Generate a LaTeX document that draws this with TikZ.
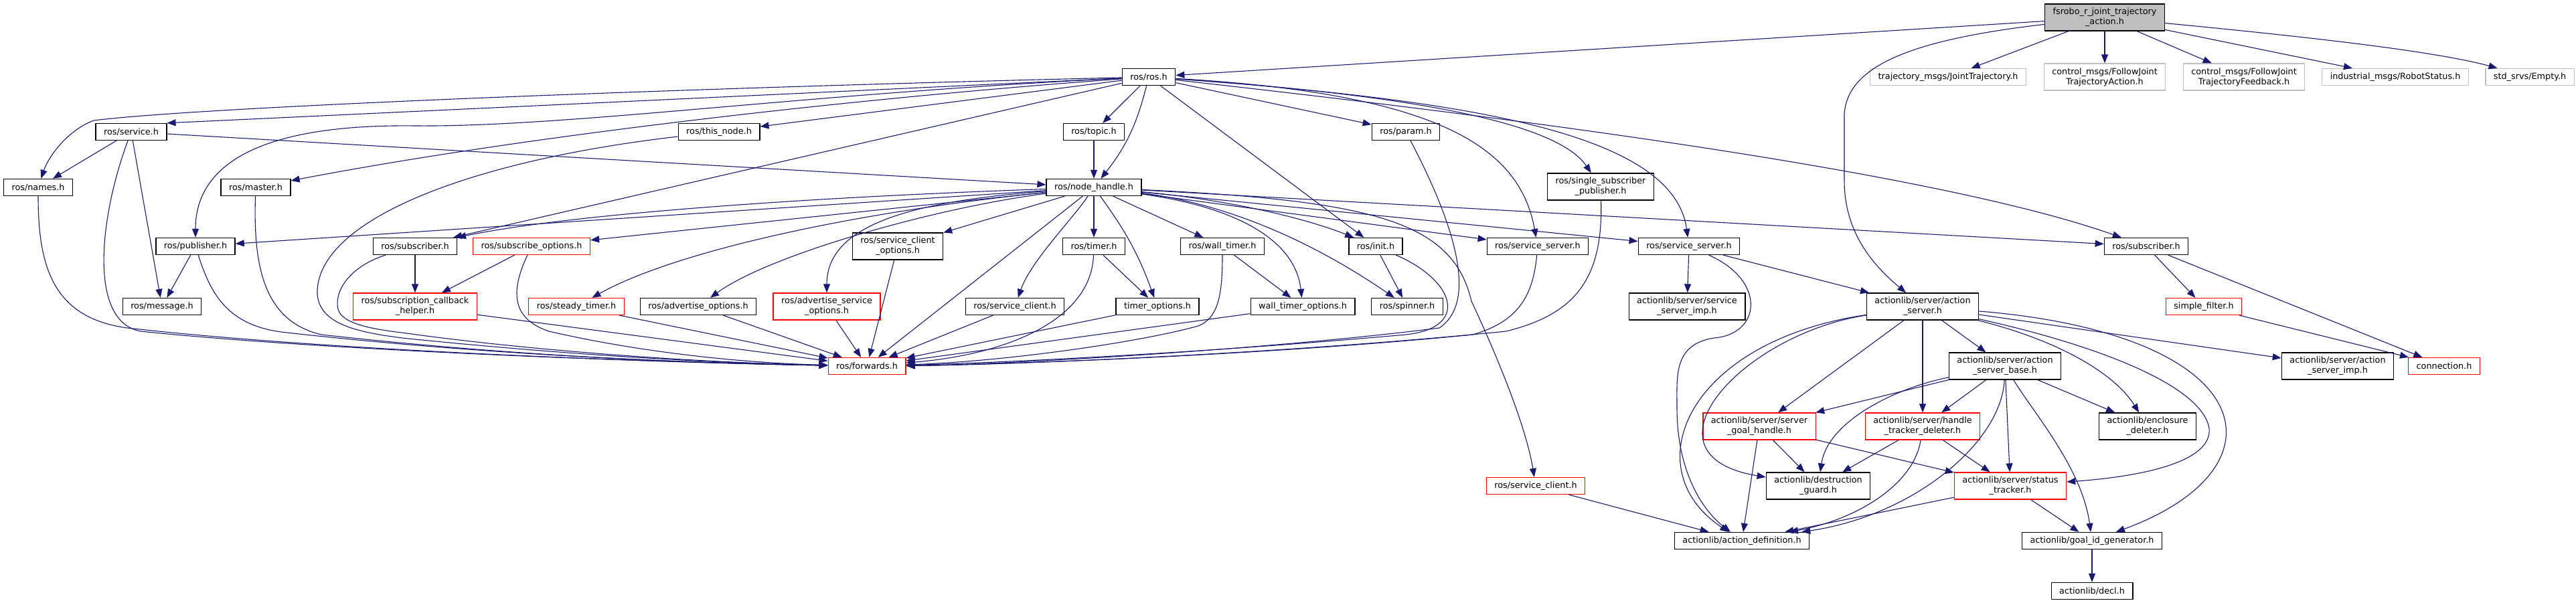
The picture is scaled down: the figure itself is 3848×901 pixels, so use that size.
\documentclass[tikz,border=0pt]{standalone}
\usepackage{fontspec}
\setmainfont{DejaVu Sans}
\usetikzlibrary{arrows.meta}
\definecolor{edgeblue}{RGB}{25, 25, 112}
\definecolor{boxgray}{RGB}{191, 191, 191}

\begin{document}
\begin{tikzpicture}[
    x=1pt, y=-1pt,
    every node/.style={font=\fontsize{12.8}{15}\selectfont},
    file/.style={rectangle, draw=black, line width=1.3pt, fill=white, inner xsep=12pt, inner ysep=2pt, minimum height=25pt, align=center},
    twoline/.style={minimum height=40pt},
    trunc/.style={file, draw=red},
    ext/.style={file, draw=boxgray},
    root/.style={file, fill=boxgray},
    dep/.style={line width=1.1pt, draw=edgeblue, -{Triangle[length=13pt,width=10pt]}}
]
\useasboundingbox (0,0) rectangle (3848,901);

% Nodes
\node (root) [root, twoline] at (3144,26) {fsrobo\_r\_joint\_trajectory\\\_action.h};

\node (rosh) [file] at (1716,115) {ros/ros.h};
\node (traj) [ext] at (2910,115) {trajectory\_msgs/JointTrajectory.h};
\node (fjtaction) [ext, twoline] at (3144,115) {control\_msgs/FollowJoint\\TrajectoryAction.h};
\node (fjtfeedback) [ext, twoline] at (3352,115) {control\_msgs/FollowJoint\\TrajectoryFeedback.h};
\node (robstatus) [ext] at (3578,115) {industrial\_msgs/RobotStatus.h};
\node (empty) [ext] at (3779,115) {std\_srvs/Empty.h};

\node (service) [file] at (196,197) {ros/service.h};
\node (thisnode) [file] at (1074,197) {ros/this\_node.h};
\node (topic) [file] at (1634,197) {ros/topic.h};
\node (param) [file] at (2100,197) {ros/param.h};

\node (names) [file] at (57,280) {ros/names.h};
\node (master) [file] at (382,280) {ros/master.h};
\node (nodehandle) [file] at (1634,280) {ros/node\_handle.h};
\node (sspub) [file, twoline] at (2391,279) {ros/single\_subscriber\\\_publisher.h};

\node (publisher) [file] at (292,368) {ros/publisher.h};
\node (subA) [file] at (620,368) {ros/subscriber.h};
\node (subopts) [trunc] at (794,368) {ros/subscribe\_options.h};
\node (scliopts) [file, twoline] at (1341,368) {ros/service\_client\\\_options.h};
\node (timer) [file] at (1634,368) {ros/timer.h};
\node (walltimer) [file] at (1826,368) {ros/wall\_timer.h};
\node (init) [file] at (2055,368) {ros/init.h};
\node (ssrvA) [file] at (2297,368) {ros/service\_server.h};
\node (ssrvB) [file] at (2523,368) {ros/service\_server.h};
\node (subB) [file] at (3206,368) {ros/subscriber.h};

\node (message) [file] at (242,458) {ros/message.h};
\node (subcb) [trunc, twoline] at (620,458) {ros/subscription\_callback\\\_helper.h};
\node (steady) [trunc] at (861,458) {ros/steady\_timer.h};
\node (advopts) [file] at (1043,458) {ros/advertise\_options.h};
\node (advsrvopts) [trunc, twoline] at (1235,458) {ros/advertise\_service\\\_options.h};
\node (scliA) [file] at (1516,458) {ros/service\_client.h};
\node (timeropts) [file] at (1729,458) {timer\_options.h};
\node (walltimeropts) [file] at (1946,458) {wall\_timer\_options.h};
\node (spinner) [file] at (2102,458) {ros/spinner.h};
\node (ssimp) [file, twoline] at (2520,458) {actionlib/server/service\\\_server\_imp.h};
\node (asrv) [file, twoline] at (2872,458) {actionlib/server/action\\\_server.h};
\node (simplefilter) [trunc] at (3292,458) {simple\_filter.h};

\node (forwards) [trunc] at (1295,547) {ros/forwards.h};
\node (asbase) [file, twoline] at (2995,547) {actionlib/server/action\\\_server\_base.h};
\node (asimp) [file, twoline] at (3492,547) {actionlib/server/action\\\_server\_imp.h};
\node (connection) [trunc] at (3651,547) {connection.h};

\node (goalhandle) [trunc, twoline] at (2628,637) {actionlib/server/server\\\_goal\_handle.h};
\node (htdeleter) [trunc, twoline] at (2872,637) {actionlib/server/handle\\\_tracker\_deleter.h};
\node (encdeleter) [file, twoline] at (3208,637) {actionlib/enclosure\\\_deleter.h};

\node (scliB) [trunc] at (2294,726) {ros/service\_client.h};
\node (dguard) [file, twoline] at (2716,726) {actionlib/destruction\\\_guard.h};
\node (stracker) [trunc, twoline] at (3003,726) {actionlib/server/status\\\_tracker.h};

\node (actdef) [file] at (2602,808) {actionlib/action\_definition.h};
\node (goalid) [file] at (3125,808) {actionlib/goal\_id\_generator.h};
\node (decl) [file] at (3125,883) {actionlib/decl.h};

% Arrows
\draw [dep] (root) -- (rosh);
\draw [dep] (root) .. controls (2850,60) and (2760,100) .. (2755,170) -- (2755,270) .. controls (2755,340) and (2790,390) .. (asrv);
\draw [dep] (root) -- (traj);
\draw [dep] (root) -- (fjtaction);
\draw [dep] (root) -- (fjtfeedback);
\draw [dep] (root) -- (robstatus);
\draw [dep] (root) .. controls (3500,60) and (3650,80) .. (empty);

\draw [dep] (rosh) .. controls (1000,132) and (300,160) .. (140,180) .. controls (100,195) and (72,235) .. (names);
\draw [dep] (rosh) -- (service.north east);
\draw [dep] (rosh) .. controls (1200,140) and (850,190) .. (620,188) .. controls (380,185) and (292,250) .. (publisher);
\draw [dep] (rosh) .. controls (1300,145) and (800,200) .. (master);
\draw [dep] (rosh) -- (subA);
\draw [dep] (rosh) -- (thisnode);
\draw [dep] (rosh) -- (topic);
\draw [dep] (rosh) to[bend left=12] (nodehandle);
\draw [dep] (rosh) -- (param);
\draw [dep] (rosh) -- (init);
\draw [dep] (rosh) .. controls (2150,140) and (2270,220) .. (ssrvA);
\draw [dep] (rosh) .. controls (2150,145) and (2330,190) .. (sspub);
\draw [dep] (rosh) .. controls (2200,150) and (2500,200) .. (ssrvB);
\draw [dep] (rosh) .. controls (2300,180) and (2900,260) .. (subB);

\draw [dep] (service) -- (names);
\draw [dep] (service) -- (message);
\draw [dep] (service) -- (nodehandle);
\draw [dep] (service) .. controls (150,320) and (130,480) .. (210,495) .. controls (500,525) and (1000,542) .. (forwards);
\draw [dep] (names) .. controls (57,400) and (80,475) .. (190,490) .. controls (500,525) and (1000,542) .. (forwards);
\draw [dep] (publisher) -- (message);
\draw [dep] (publisher) .. controls (315,440) and (340,485) .. (420,496) .. controls (700,528) and (1000,542) .. (forwards);
\draw [dep] (master) .. controls (378,400) and (395,480) .. (480,500) .. controls (750,530) and (1000,542) .. (forwards);
\draw [dep] (thisnode) .. controls (700,240) and (470,330) .. (474,440) .. controls (478,480) and (520,497) .. (620,507) .. controls (850,530) and (1050,542) .. (forwards);
\draw [dep] (subA) -- (subcb);
\draw [dep] (subA) .. controls (530,395) and (498,430) .. (505,462) .. controls (510,480) and (540,490) .. (600,497) .. controls (800,525) and (1050,542) .. (forwards);
\draw [dep] (subopts) -- (subcb);
\draw [dep] (subopts) .. controls (765,430) and (760,475) .. (820,495) .. controls (950,525) and (1100,542) .. (forwards);
\draw [dep] (subcb) -- (forwards);
\draw [dep] (steady) -- (forwards);

\draw [dep] (topic) -- (nodehandle);
\draw [dep] (nodehandle) -- (publisher);
\draw [dep] (nodehandle) .. controls (1200,295) and (850,320) .. (subA);
\draw [dep] (nodehandle) -- (subopts);
\draw [dep] (nodehandle) .. controls (1250,320) and (1000,380) .. (steady);
\draw [dep] (nodehandle) .. controls (1400,310) and (1150,380) .. (advopts);
\draw [dep] (nodehandle) .. controls (1380,300) and (1235,330) .. (advsrvopts);
\draw [dep] (nodehandle) -- (scliopts);
\draw [dep] (nodehandle) -- (forwards);
\draw [dep] (nodehandle) .. controls (1600,330) and (1540,390) .. (scliA);
\draw [dep] (nodehandle) -- (timer);
\draw [dep] (nodehandle) to[bend left=8] (timeropts);
\draw [dep] (nodehandle) -- (walltimer);
\draw [dep] (nodehandle) .. controls (1850,310) and (1935,360) .. (walltimeropts);
\draw [dep] (nodehandle) .. controls (1800,300) and (1930,340) .. (spinner);
\draw [dep] (nodehandle) .. controls (1850,300) and (1960,330) .. (init);
\draw [dep] (nodehandle) -- (ssrvA);
\draw [dep] (nodehandle) -- (ssrvB);
\draw [dep] (nodehandle) -- (subB);
\draw [dep] (nodehandle) .. controls (2050,300) and (2170,330) .. (2198,450) .. controls (2240,540) and (2280,640) .. (scliB);

\draw [dep] (advopts) -- (forwards);
\draw [dep] (advsrvopts) -- (forwards);
\draw [dep] (scliopts) -- (forwards);
\draw [dep] (scliA) -- (forwards);
\draw [dep] (timer) -- (timeropts);
\draw [dep] (timer) .. controls (1630,480) and (1500,530) .. (forwards);
\draw [dep] (timeropts) -- (forwards);
\draw [dep] (walltimer) -- (walltimeropts);
\draw [dep] (walltimer) .. controls (1826,440) and (1820,475) .. (1790,487) .. controls (1700,512) and (1500,540) .. (forwards);
\draw [dep] (walltimeropts) -- (forwards);
\draw [dep] (init) -- (spinner);
\draw [dep] (init) .. controls (2175,420) and (2195,490) .. (2100,500) .. controls (1800,527) and (1500,542) .. (forwards);
\draw [dep] (param) .. controls (2170,330) and (2210,450) .. (2150,490) .. controls (1900,522) and (1500,545) .. (forwards);
\draw [dep] (ssrvA) .. controls (2290,440) and (2270,480) .. (2200,500) .. controls (1900,530) and (1500,545) .. (forwards);
\draw [dep] (sspub) .. controls (2395,420) and (2350,470) .. (2250,495) .. controls (1900,530) and (1500,545) .. (forwards);

\draw [dep] (ssrvB) -- (ssimp);
\draw [dep] (ssrvB) -- (asrv);
\draw [dep] (ssrvB) .. controls (2640,420) and (2630,500) .. (2560,505) .. controls (2500,515) and (2505,560) .. (2505,610) .. controls (2505,700) and (2540,760) .. (actdef);

\draw [dep] (asrv) .. controls (2520,510) and (2440,700) .. (actdef);
\draw [dep] (asrv) .. controls (2600,500) and (2440,680) .. (dguard);
\draw [dep] (asrv) -- (goalhandle);
\draw [dep] (asrv) -- (htdeleter);
\draw [dep] (asrv) -- (asbase);
\draw [dep] (asrv) .. controls (3080,510) and (3160,560) .. (encdeleter);
\draw [dep] (asrv) .. controls (3150,520) and (3290,580) .. (3300,640) .. controls (3305,690) and (3200,712) .. (stracker);
\draw [dep] (asrv) .. controls (3380,500) and (3420,700) .. (goalid);
\draw [dep] (asrv) -- (asimp);

\draw [dep] (asbase) -- (goalhandle);
\draw [dep] (asbase) .. controls (2830,580) and (2730,630) .. (dguard);
\draw [dep] (asbase) -- (htdeleter);
\draw [dep] (asbase) -- (stracker);
\draw [dep] (asbase) .. controls (2990,660) and (2860,770) .. (actdef);
\draw [dep] (asbase) .. controls (3040,620) and (3110,700) .. (goalid);
\draw [dep] (asbase) -- (encdeleter);

\draw [dep] (goalhandle) -- (dguard);
\draw [dep] (goalhandle) -- (actdef);
\draw [dep] (goalhandle) -- (stracker);
\draw [dep] (htdeleter) -- (dguard);
\draw [dep] (htdeleter) .. controls (2860,720) and (2780,775) .. (actdef);
\draw [dep] (htdeleter) -- (stracker);
\draw [dep] (stracker) -- (actdef);
\draw [dep] (stracker) -- (goalid);
\draw [dep] (goalid) -- (decl);
\draw [dep] (scliB) -- (actdef);

\draw [dep] (subB) -- (simplefilter);
\draw [dep] (subB) -- (connection);
\draw [dep] (simplefilter) -- (connection);

\end{tikzpicture}
\end{document}
